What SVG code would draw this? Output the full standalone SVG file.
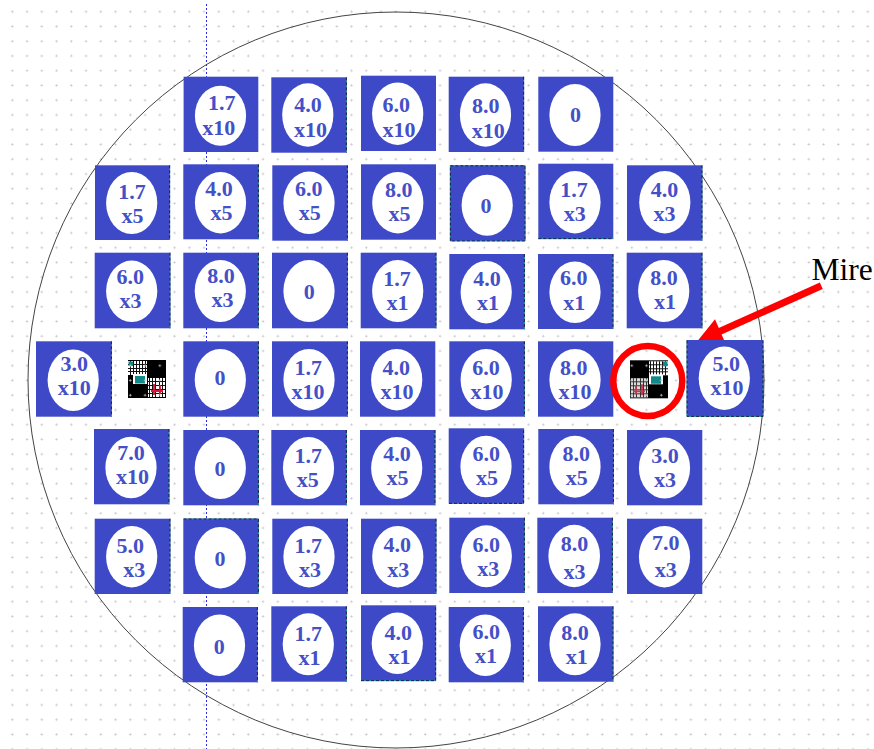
<svg xmlns="http://www.w3.org/2000/svg" width="874" height="749" viewBox="0 0 874 749">
<style>
.sq{fill:#3e49c8}
.el{fill:#fff}
.t{font-family:"Liberation Serif","Times New Roman",serif;font-weight:bold;font-size:22px;fill:#4450c8;text-anchor:middle}
.ed1{stroke:#1b2340;stroke-width:1;stroke-dasharray:3 2;fill:none}
.ed2{stroke:#1f9aa6;stroke-width:1;stroke-dasharray:2 3;stroke-dashoffset:-3;fill:none}
</style>
<defs>
<pattern id="dots" x="5" y="4.400" width="14.75" height="14.75" patternUnits="userSpaceOnUse">
<path d="M7.300 6.200v2.200M6.200 7.300h2.200" stroke="#c6c6c6" stroke-width="1" fill="none"/>
</pattern>
<g id="mire">
<rect width="38" height="38" fill="#000"/>
<rect x="19" y="1" width="19" height="14" fill="#fff"/>
<path d="M20.500 1v14M23.500 1v14M26.500 1v14M29.500 1v14M32.500 1v14M35.500 1v14M19 4.500h19M19 8.500h19M19 11.500h19" stroke="#111" stroke-width="1" fill="none"/>
<rect x="33" y="1.500" width="4.500" height="4.500" fill="#138a8a"/>
<rect x="19" y="14" width="14" height="10" fill="#fff"/>
<rect x="21" y="16" width="10" height="7.500" fill="#138a8a"/>
<rect x="1" y="18" width="17" height="19" fill="#fff"/>
<path d="M3.500 18v19M6.500 18v19M10.500 18v19M13.500 18v19M16.500 18v19M1 21.500h17M1 25.500h17M1 29.500h17M1 33.500h17" stroke="#111" stroke-width="1" fill="none"/>
<path d="M6 25v9M12 24v11M3 31h12" stroke="#e01535" stroke-width="1.800" fill="none"/>
</g>
<path id="edges" d="M346.400 77.300V152.700M523.700 76.700V152M169.700 165.300V240M258.400 164.300V239.300M347.400 165.300V240.700M450.300 165.800H525V241H450.300ZM538.300 238.700H613.300M702 165.300V240.700M170 252.700V328.300M258.400 252.700V328.300M347.400 252.700V328.300M436 252.700V328.300M524.400 254V329.300M613 254V329M702 252.700V328.300M111.400 341.300V416.700M258.400 341.300V416.700M347.400 341.300V416.700M524.400 341.300V416.700M687 340.500V416.400H763V340.500M169 429V504.300M258.400 430V505.300M346.400 430V505.300M435 430V505.300M449 503.400H523.700V428.300M613.400 429V504.300M170 518.700V594M183.600 518.900H258.400V594M347.400 518.700V594M436 518.700V594M524.400 517.700V593M612.400 517.700V593M257.400 607V682.300M346.400 606.300V681.700M361 680.700H435.700V605.300M523.400 607V682.300M613 606.300V681.700"/>
</defs>
<rect width="874" height="749" fill="#fff"/>
<rect width="874" height="749" fill="url(#dots)"/>
<line x1="206.500" y1="4" x2="206.500" y2="749" stroke="#2a2ae8" stroke-width="1" stroke-dasharray="2 2"/>
<circle cx="396" cy="380" r="368" fill="none" stroke="#444" stroke-width="1"/>

<g id="n1"><rect class="sq" x="183.600" y="76.700" width="74.700" height="75.300"/><ellipse class="el" cx="220.500" cy="115.700" rx="25.600" ry="30"/><text class="t"><tspan x="221.700" y="110.300">1.7</tspan><tspan x="218.700" y="134.500">x10</tspan></text></g>
<g id="n2"><rect class="sq" x="271.300" y="77.300" width="75.400" height="75.400"/><ellipse class="el" cx="307.800" cy="115" rx="25.600" ry="31.700"/><text class="t"><tspan x="308" y="111.700">4.0</tspan><tspan x="310.500" y="136.700">x10</tspan></text></g>
<g id="n3"><rect class="sq" x="361" y="75.700" width="75" height="75.300"/><ellipse class="el" cx="397.700" cy="113.700" rx="25.600" ry="31.300"/><text class="t"><tspan x="396.300" y="111.700">6.0</tspan><tspan x="399" y="136.700">x10</tspan></text></g>
<g id="n4"><rect class="sq" x="448.700" y="76.700" width="75.300" height="75.300"/><ellipse class="el" cx="485.500" cy="115" rx="25.600" ry="31.700"/><text class="t"><tspan x="485.700" y="112.700">8.0</tspan><tspan x="488.300" y="137.700">x10</tspan></text></g>
<g id="n5"><rect class="sq" x="538.300" y="76.700" width="75" height="75"/><ellipse class="el" cx="575" cy="115" rx="25.600" ry="31"/><text class="t"><tspan x="575.500" y="121.700">0</tspan></text></g>

<g id="n6"><rect class="sq" x="95" y="165.300" width="75" height="74.700"/><ellipse class="el" cx="131.700" cy="203" rx="25.600" ry="31"/><text class="t"><tspan x="132" y="198.800">1.7</tspan><tspan x="132.500" y="222.800">x5</tspan></text></g>
<g id="n7"><rect class="sq" x="183.300" y="164.300" width="75.400" height="75"/><ellipse class="el" cx="220.500" cy="202.700" rx="25.600" ry="30.700"/><text class="t"><tspan x="219" y="196.400">4.0</tspan><tspan x="221.500" y="220.400">x5</tspan></text></g>
<g id="n8"><rect class="sq" x="272.300" y="165.300" width="75.400" height="75.400"/><ellipse class="el" cx="309" cy="202.800" rx="25.600" ry="31.200"/><text class="t"><tspan x="308.700" y="195.800">6.0</tspan><tspan x="309.800" y="219.800">x5</tspan></text></g>
<g id="n9"><rect class="sq" x="361" y="164.300" width="75" height="75.400"/><ellipse class="el" cx="397.800" cy="202.700" rx="25.600" ry="30.700"/><text class="t"><tspan x="398.700" y="196.800">8.0</tspan><tspan x="399.500" y="220.800">x5</tspan></text></g>
<g id="n10"><rect class="sq" x="450" y="165.300" width="75.300" height="75.700"/><ellipse class="el" cx="487.200" cy="205.200" rx="25.600" ry="30.500"/><text class="t"><tspan x="486" y="213.300">0</tspan></text></g>
<g id="n11"><rect class="sq" x="538.300" y="163.700" width="75" height="75.300"/><ellipse class="el" cx="575" cy="202.200" rx="25.600" ry="31.200"/><text class="t"><tspan x="574" y="197.300">1.7</tspan><tspan x="574.800" y="221.300">x3</tspan></text></g>
<g id="n12"><rect class="sq" x="627" y="165.300" width="75.300" height="75.400"/><ellipse class="el" cx="664.800" cy="202.200" rx="25.600" ry="31.200"/><text class="t"><tspan x="664.500" y="196.800">4.0</tspan><tspan x="664.500" y="220.800">x3</tspan></text></g>

<g id="n13"><rect class="sq" x="94.700" y="252.700" width="75.600" height="75.600"/><ellipse class="el" cx="131.700" cy="291.300" rx="25.600" ry="30.700"/><text class="t"><tspan x="130.300" y="284">6.0</tspan><tspan x="130.500" y="308">x3</tspan></text></g>
<g id="n14"><rect class="sq" x="183.300" y="252.700" width="75.400" height="75.600"/><ellipse class="el" cx="220.300" cy="291" rx="25.600" ry="31"/><text class="t"><tspan x="221" y="282.700">8.0</tspan><tspan x="222.500" y="306.700">x3</tspan></text></g>
<g id="n15"><rect class="sq" x="272" y="252.700" width="75.700" height="75.600"/><ellipse class="el" cx="309" cy="291" rx="25.600" ry="31"/><text class="t"><tspan x="309.300" y="298.700">0</tspan></text></g>
<g id="n16"><rect class="sq" x="360.700" y="252.700" width="75.600" height="75.600"/><ellipse class="el" cx="397.700" cy="291" rx="25.600" ry="31"/><text class="t"><tspan x="397" y="286.400">1.7</tspan><tspan x="397.500" y="310.400">x1</tspan></text></g>
<g id="n17"><rect class="sq" x="449.300" y="254" width="75.400" height="75.300"/><ellipse class="el" cx="486.200" cy="292.200" rx="25.600" ry="31.200"/><text class="t"><tspan x="487" y="286">4.0</tspan><tspan x="488" y="310">x1</tspan></text></g>
<g id="n18"><rect class="sq" x="538" y="254" width="75.300" height="75"/><ellipse class="el" cx="575" cy="292.200" rx="25.600" ry="30.800"/><text class="t"><tspan x="573.700" y="285.300">6.0</tspan><tspan x="574.200" y="309.700">x1</tspan></text></g>
<g id="n19"><rect class="sq" x="626.700" y="252.700" width="75.600" height="75.600"/><ellipse class="el" cx="663.700" cy="291" rx="25.600" ry="31"/><text class="t"><tspan x="664" y="285.200">8.0</tspan><tspan x="665" y="309.200">x1</tspan></text></g>

<g id="n20"><rect class="sq" x="36" y="341.300" width="75.700" height="75.400"/><ellipse class="el" cx="73.200" cy="380.200" rx="25.600" ry="30.800"/><text class="t"><tspan x="74.300" y="371.400">3.0</tspan><tspan x="74.300" y="395.400">x10</tspan></text></g>
<g id="mire1"><use href="#mire" transform="translate(166 360) scale(-1 1)"/><rect x="128" y="360" width="38" height="38" fill="url(#dots)"/></g>
<g id="n21"><rect class="sq" x="183.300" y="341.300" width="75.400" height="75.400"/><ellipse class="el" cx="220.300" cy="379.700" rx="25.600" ry="30.700"/><text class="t"><tspan x="220" y="385">0</tspan></text></g>
<g id="n22"><rect class="sq" x="272" y="341.300" width="75.700" height="75.400"/><ellipse class="el" cx="309" cy="379.700" rx="25.600" ry="30.700"/><text class="t"><tspan x="308.300" y="375.300">1.7</tspan><tspan x="308" y="399.300">x10</tspan></text></g>
<g id="n23"><rect class="sq" x="360" y="341.300" width="75.300" height="75.400"/><ellipse class="el" cx="396.700" cy="379.700" rx="25.600" ry="30.700"/><text class="t"><tspan x="396.300" y="375.300">4.0</tspan><tspan x="397" y="399.300">x10</tspan></text></g>
<g id="n24"><rect class="sq" x="449.300" y="341.300" width="75.400" height="75.400"/><ellipse class="el" cx="486.200" cy="379.700" rx="25.600" ry="30.700"/><text class="t"><tspan x="486" y="375.300">6.0</tspan><tspan x="487" y="399.300">x10</tspan></text></g>
<g id="n25"><rect class="sq" x="538" y="341.300" width="75.300" height="75.400"/><ellipse class="el" cx="575" cy="379.700" rx="25.600" ry="30.700"/><text class="t"><tspan x="573.700" y="375.300">8.0</tspan><tspan x="575" y="399.300">x10</tspan></text></g>
<g id="mire2"><use href="#mire" transform="translate(630 360.300)"/><rect x="630" y="378.500" width="18" height="20" fill="#888" opacity=".3"/><rect x="630" y="360.300" width="38" height="38" fill="url(#dots)"/></g>
<g id="n26"><rect class="sq" x="686.700" y="340" width="76.600" height="76.700"/><ellipse class="el" cx="724.300" cy="378.300" rx="25.600" ry="31.700"/><text class="t"><tspan x="726.300" y="371.400">5.0</tspan><tspan x="727" y="395.400">x10</tspan></text></g>

<g id="n27"><rect class="sq" x="94" y="429" width="75.300" height="75.300"/><ellipse class="el" cx="131" cy="467.500" rx="25.600" ry="30.800"/><text class="t"><tspan x="131" y="460.400">7.0</tspan><tspan x="132.500" y="484.400">x10</tspan></text></g>
<g id="n28"><rect class="sq" x="183.300" y="430" width="75.400" height="75.300"/><ellipse class="el" cx="220.300" cy="468" rx="25.600" ry="31"/><text class="t"><tspan x="220" y="475.700">0</tspan></text></g>
<g id="n29"><rect class="sq" x="271.300" y="430" width="75.400" height="75.300"/><ellipse class="el" cx="308.500" cy="468" rx="25.600" ry="31"/><text class="t"><tspan x="308.300" y="462.800">1.7</tspan><tspan x="307.700" y="486.800">x5</tspan></text></g>
<g id="n30"><rect class="sq" x="360" y="430" width="75.300" height="75.300"/><ellipse class="el" cx="396.700" cy="468" rx="25.600" ry="31"/><text class="t"><tspan x="397" y="461">4.0</tspan><tspan x="397.500" y="485">x5</tspan></text></g>
<g id="n31"><rect class="sq" x="448.700" y="428.300" width="75.300" height="75.400"/><ellipse class="el" cx="486" cy="466.500" rx="25.600" ry="30.800"/><text class="t"><tspan x="486.200" y="461.300">6.0</tspan><tspan x="487" y="485.300">x5</tspan></text></g>
<g id="n32"><rect class="sq" x="538.300" y="429" width="75.400" height="75.300"/><ellipse class="el" cx="575" cy="466.700" rx="25.600" ry="31"/><text class="t"><tspan x="576.300" y="461">8.0</tspan><tspan x="576.700" y="485">x5</tspan></text></g>
<g id="n33"><rect class="sq" x="627" y="430" width="75.300" height="75.300"/><ellipse class="el" cx="664.500" cy="468" rx="25.600" ry="30.500"/><text class="t"><tspan x="665" y="462.800">3.0</tspan><tspan x="665" y="486.800">x3</tspan></text></g>

<g id="n34"><rect class="sq" x="94.700" y="518.700" width="75.600" height="75.300"/><ellipse class="el" cx="131.700" cy="556.700" rx="25.600" ry="30.700"/><text class="t"><tspan x="130.300" y="552.800">5.0</tspan><tspan x="134.200" y="576.800">x3</tspan></text></g>
<g id="n35"><rect class="sq" x="183.300" y="518.700" width="75.400" height="75.300"/><ellipse class="el" cx="220.300" cy="557.700" rx="25.600" ry="30.700"/><text class="t"><tspan x="220" y="565.700">0</tspan></text></g>
<g id="n36"><rect class="sq" x="272.300" y="518.700" width="75.400" height="75.300"/><ellipse class="el" cx="309" cy="556.700" rx="25.600" ry="30.700"/><text class="t"><tspan x="308.300" y="553.300">1.7</tspan><tspan x="310" y="577.300">x3</tspan></text></g>
<g id="n37"><rect class="sq" x="361" y="518.700" width="75.300" height="75.300"/><ellipse class="el" cx="397.800" cy="556.700" rx="25.600" ry="30.700"/><text class="t"><tspan x="397.300" y="552.300">4.0</tspan><tspan x="398.300" y="576.700">x3</tspan></text></g>
<g id="n38"><rect class="sq" x="449.300" y="517.700" width="75.400" height="75.300"/><ellipse class="el" cx="486.300" cy="556.300" rx="25.600" ry="31"/><text class="t"><tspan x="486.200" y="552.300">6.0</tspan><tspan x="488.300" y="576.300">x3</tspan></text></g>
<g id="n39"><rect class="sq" x="537.300" y="517.700" width="75.400" height="75.300"/><ellipse class="el" cx="574.200" cy="556" rx="25.800" ry="31.200"/><text class="t"><tspan x="574.500" y="551">8.0</tspan><tspan x="574.500" y="579.300">x3</tspan></text></g>
<g id="n40"><rect class="sq" x="627" y="518.700" width="75.300" height="75.300"/><ellipse class="el" cx="664.500" cy="556.700" rx="25.600" ry="30.700"/><text class="t"><tspan x="665.700" y="550">7.0</tspan><tspan x="665.800" y="576.700">x3</tspan></text></g>

<g id="n41"><rect class="sq" x="182.700" y="607" width="75" height="75.300"/><ellipse class="el" cx="219.500" cy="645.200" rx="25.600" ry="30.800"/><text class="t"><tspan x="219.300" y="654">0</tspan></text></g>
<g id="n42"><rect class="sq" x="271.300" y="606.300" width="75.400" height="75.400"/><ellipse class="el" cx="308.300" cy="644.300" rx="25.600" ry="31"/><text class="t"><tspan x="308.300" y="640.800">1.7</tspan><tspan x="309.500" y="664.800">x1</tspan></text></g>
<g id="n43"><rect class="sq" x="361" y="605.300" width="75" height="75.700"/><ellipse class="el" cx="397.300" cy="643.300" rx="25.600" ry="30.700"/><text class="t"><tspan x="398.300" y="640">4.0</tspan><tspan x="399.500" y="664">x1</tspan></text></g>
<g id="n44"><rect class="sq" x="448.700" y="607" width="75" height="75.300"/><ellipse class="el" cx="485.300" cy="645.200" rx="25.600" ry="30.800"/><text class="t"><tspan x="486.200" y="639.300">6.0</tspan><tspan x="486" y="663.300">x1</tspan></text></g>
<g id="n45"><rect class="sq" x="538" y="606.300" width="75.300" height="75.400"/><ellipse class="el" cx="575" cy="644.300" rx="25.600" ry="31"/><text class="t"><tspan x="575" y="640">8.0</tspan><tspan x="576.800" y="664">x1</tspan></text></g>

<g id="edge-marks"><use href="#edges" class="ed2"/><use href="#edges" class="ed1"/></g>
<g id="connectors">
<ellipse cx="647.800" cy="381" rx="34.500" ry="35" fill="none" stroke="#f00" stroke-width="6.500"/>
<path d="M821.300 285.700 L719 331.700" stroke="#f00" stroke-width="7" fill="none"/>
<path d="M698.300 340 L715 319.300 L724 340 Z" fill="#f00"/>
</g>
<text id="mire-label" x="811.500" y="280" font-family="Liberation Serif, Times New Roman, serif" font-size="31.500" fill="#000">Mire</text>
</svg>
